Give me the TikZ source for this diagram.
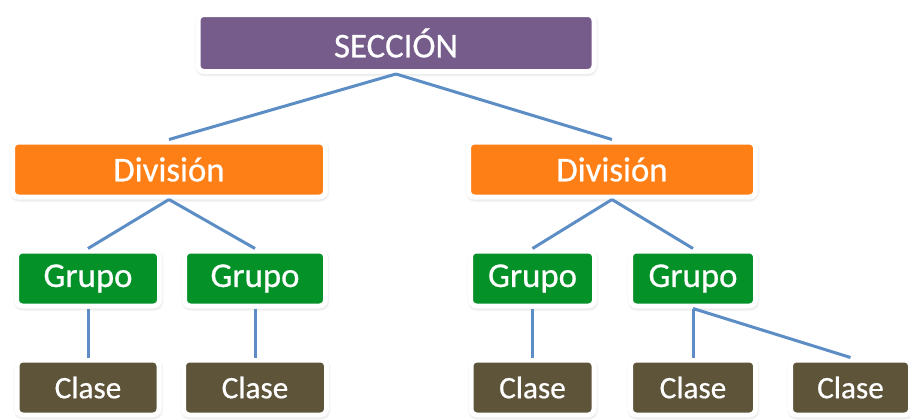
\documentclass[tikz,border=0pt]{standalone}
\usepackage{fontspec}
\setmainfont{Carlito}
\newfontfamily\boxfont{Carlito}[FakeBold=0.6]
\usepackage{tikz}
\usetikzlibrary{positioning,shapes,shadows,shadows.blur}
\definecolor{seccioncol}{RGB}{117,92,139}
\definecolor{divisioncol}{RGB}{255,127,23}
\definecolor{grupocol}{RGB}{4,145,40}
\definecolor{clasecol}{RGB}{93,84,58}
\definecolor{linkcol}{RGB}{92,141,196}
\tikzstyle{box} = [rectangle, rounded corners=0.12cm, minimum height=1.1cm, text centered, draw=white, line width=0.1cm, text=white, blur shadow={shadow xshift=0.01cm, shadow yshift=-0.03cm, shadow blur radius=0.08cm, shadow blur steps=6, shadow opacity=30}]
\tikzstyle{seccion} = [box, minimum width=7.92cm, minimum height=1.14cm, fill=seccioncol, font=\boxfont\fontsize{19.8}{22}\selectfont]
\tikzstyle{division} = [box, fill=divisioncol, font=\boxfont\fontsize{19.8}{22}\selectfont]
\tikzstyle{grupo} = [box, fill=grupocol, font=\boxfont\fontsize{19.8}{22}\selectfont]
\tikzstyle{clase} = [box, fill=clasecol, font=\boxfont\fontsize{17.8}{20}\selectfont]
\tikzstyle{link} = [line width=0.06cm, draw=linkcol]
\def\ttx{-0.35}

\begin{document}
\begin{tikzpicture}[node distance=2.18cm]
\useasboundingbox (0,0) rectangle (18.2,-8.4);

\node (seccion) [seccion] at (7.92,-0.86) {SECCIÓN};

\node (divL) [division, minimum width=6.26cm, below of=seccion, yshift=\ttx cm, xshift=-4.54cm] {División};
\node (divR) [division, minimum width=5.74cm, below of=seccion, yshift=\ttx cm, xshift=4.32cm] {División};
\draw [link] (seccion.south) -- (divL.north);
\draw [link] (seccion.south) -- (divR.north);

\node (grupo1) [grupo, minimum width=2.86cm, below of=divL, xshift=-1.62cm] {Grupo};
\node (grupo2) [grupo, minimum width=2.82cm, below of=divL, xshift=1.72cm] {Grupo};
\draw [link] (divL.south) -- (grupo1.north);
\draw [link] (divL.south) -- (grupo2.north);

\node (grupo3) [grupo, minimum width=2.48cm, below of=divR, xshift=-1.59cm] {Grupo};
\node (grupo4) [grupo, minimum width=2.5cm, below of=divR, xshift=1.62cm] {Grupo};
\draw [link] (divR.south) -- (grupo3.north);
\draw [link] (divR.south) -- (grupo4.north);

\node (clase1) [clase, minimum width=2.84cm, below of=grupo1] {Clase};
\draw [link] (grupo1) -- (clase1);
\node (clase2) [clase, minimum width=2.86cm, below of=grupo2] {Clase};
\draw [link] (grupo2) -- (clase2);
\node (clase3) [clase, minimum width=2.46cm, below of=grupo3] {Clase};
\draw [link] (grupo3) -- (clase3);
\node (clase4) [clase, minimum width=2.5cm, below of=grupo4] {Clase};
\draw [link] (grupo4) -- (clase4);
\node (clase5) [clase, minimum width=2.4cm, below of=grupo4, xshift=3.15cm] {Clase};
\draw [link] (grupo4.south) -- (clase5.north);

\end{tikzpicture}
\end{document}
